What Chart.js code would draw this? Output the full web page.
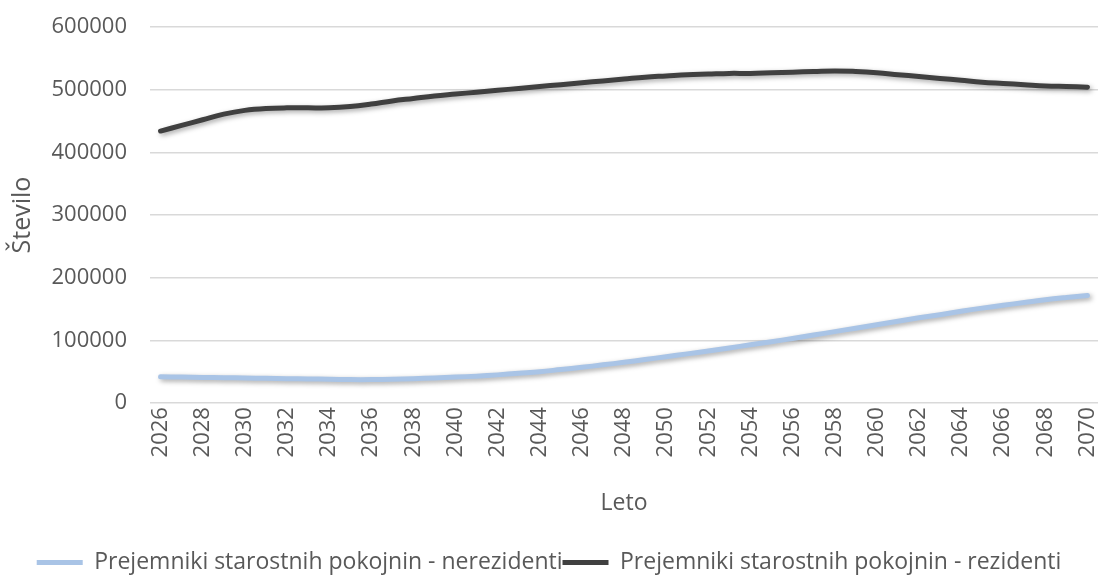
<!DOCTYPE html>
<html>
<head>
<meta charset="utf-8">
<script src="https://cdn.jsdelivr.net/npm/chart.js@4.4.1/dist/chart.umd.min.js"></script>
<style>
  html, body { margin: 0; padding: 0; background: #ffffff; }
  #wrap { width: 1101px; height: 584px; }
</style>
</head>
<body>
<div id="wrap"><canvas id="myChart" width="1101" height="584"></canvas></div>
<script>
const years = [];
for (let y = 2026; y <= 2070; y++) years.push(String(y));

const nerezidenti = [
  42000, 41500, 41000, 40500, 40000, 39500, 39000, 38500, 38000, 37500,
  37500, 38000, 39000, 40000, 41500, 43000, 45000, 47500, 50000, 53500,
  57000, 61000, 65000, 69500, 74000, 78500, 83000, 88000, 93000, 98000,
  103000, 108500, 114000, 119500, 125000, 130500, 136000, 141000, 146500, 151500,
  156000, 160500, 165000, 168500, 171500
];

const rezidenti = [
  434000, 443000, 452000, 461000, 467000, 470000, 471000, 471000, 471000, 473000,
  477000, 482000, 486000, 490000, 493000, 496000, 499000, 502000, 505000, 508000,
  511000, 514000, 517000, 520000, 522000, 524000, 525000, 526000, 526000, 527000,
  528000, 529000, 530000, 529000, 527000, 524000, 521000, 518000, 515000, 512000,
  510000, 508000, 506000, 505000, 504000
];

const seriesNames = [
  "Prejemniki starostnih pokojnin - nerezidenti",
  "Prejemniki starostnih pokojnin - rezidenti"
];

const textColor = "#595959";
const fontFamily = "'Open Sans', 'Noto Sans', sans-serif";

// soft drop shadow under the lines, like the office chart
const shadowPlugin = {
  id: "lineShadow",
  beforeDatasetDraw(chart) {
    const ctx = chart.ctx;
    ctx.save();
    ctx.shadowColor = "rgba(0,0,0,0.35)";
    ctx.shadowBlur = 5;
    ctx.shadowOffsetX = 2;
    ctx.shadowOffsetY = 2;
  },
  afterDatasetDraw(chart) {
    chart.ctx.restore();
  }
};

const ctx = document.getElementById("myChart").getContext("2d");
const myChart = new Chart(ctx, {
  type: "line",
  plugins: [shadowPlugin],
  data: {
    labels: years,
    datasets: [
      {
        label: seriesNames[0],
        data: nerezidenti,
        borderColor: "#a9c4e6",
        backgroundColor: "#a9c4e6",
        borderWidth: 5,
        pointRadius: 0,
        tension: 0.4,
        borderCapStyle: "round"
      },
      {
        label: seriesNames[1],
        data: rezidenti,
        borderColor: "#404040",
        backgroundColor: "#404040",
        borderWidth: 5,
        pointRadius: 0,
        tension: 0.4,
        borderCapStyle: "round"
      }
    ]
  },
  options: {
    responsive: false,
    animation: false,
    maintainAspectRatio: false,
    layout: { padding: { left: 0, right: 3, top: 27, bottom: 0 } },
    plugins: {
      tooltip: { enabled: false },
      legend: {
        position: "bottom",
        labels: {
          color: textColor,
          font: { family: fontFamily, size: 23 },
          boxWidth: 46,
          boxHeight: 5,
          padding: 0,
          generateLabels(chart) {
            const items = Chart.defaults.plugins.legend.labels.generateLabels(chart);
            items.forEach((it) => { it.lineWidth = 0; });
            return items;
          }
        }
      }
    },
    scales: {
      x: {
        offset: true,
        grid: { display: false, drawTicks: false },
        border: { display: false },
        title: {
          display: true,
          text: "Leto",
          color: textColor,
          font: { family: fontFamily, size: 23 },
          padding: { top: 28, bottom: 34 }
        },
        ticks: {
          color: textColor,
          font: { family: fontFamily, size: 22 },
          autoSkip: false,
          minRotation: 90,
          maxRotation: 90,
          padding: 4,
          callback: (v, i) => (i % 2 === 0 ? years[i] : "")
        },
        afterFit: (scale) => {
          scale.paddingLeft = 0;
          scale.paddingRight = 0;
        }
      },
      y: {
        min: 0,
        max: 600000,
        grid: { color: "#d9d9d9", lineWidth: 1.5, drawTicks: false },
        border: { display: false },
        title: {
          display: true,
          text: "Število",
          color: textColor,
          font: { family: fontFamily, size: 25 },
          padding: { top: 8, bottom: 0 }
        },
        ticks: {
          stepSize: 100000,
          color: textColor,
          font: { family: fontFamily, size: 22 },
          padding: 23,
          callback: (v) => String(v)
        },
        afterFit: (scale) => {
          scale.width = 150;
          scale.paddingTop = 0;
          scale.paddingBottom = 0;
        }
      }
    }
  }
});
</script>
</body>
</html>
